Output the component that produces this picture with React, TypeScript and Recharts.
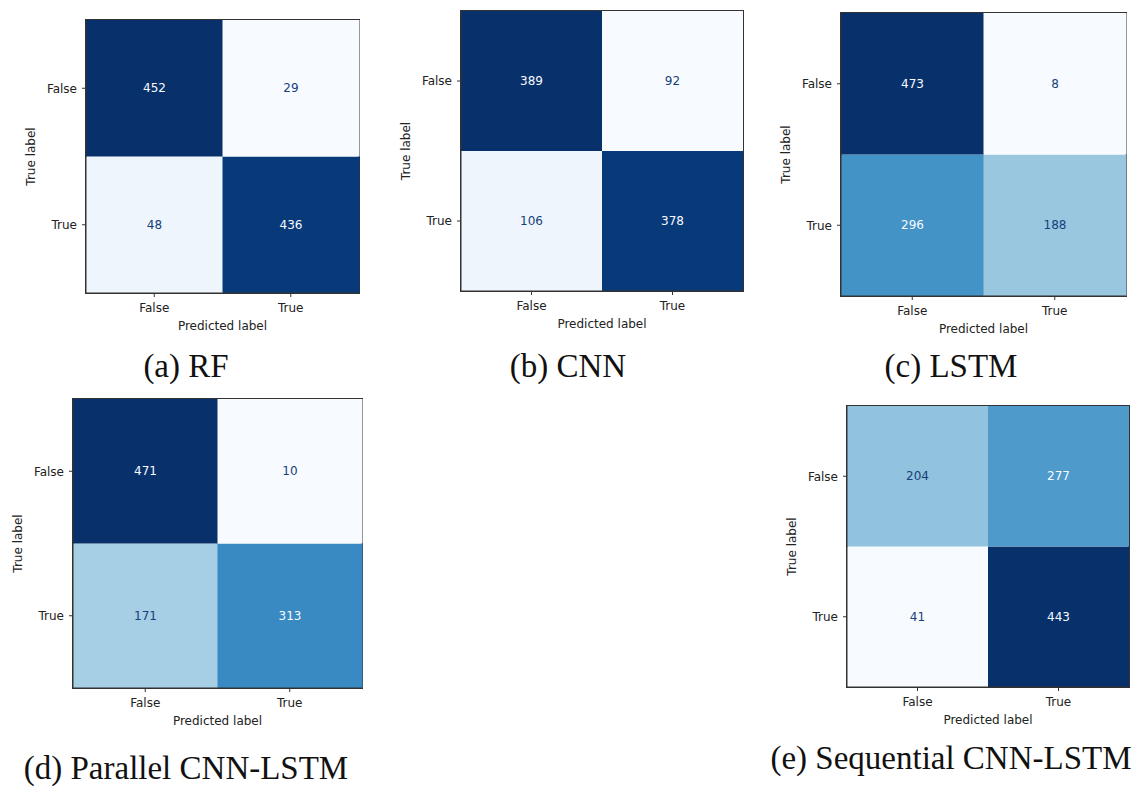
import { Bar, BarChart, Cell, Label, LabelList, ReferenceArea, XAxis, YAxis } from 'recharts'

const predictedLabels = ['False', 'True']
const trueLabels = ['False', 'True']

// rows = true label, columns = predicted label
const rfMatrix = [[452, 29], [48, 436]]
const cnnMatrix = [[389, 92], [106, 378]]
const lstmMatrix = [[473, 8], [296, 188]]
const parallelMatrix = [[471, 10], [171, 313]]
const sequentialMatrix = [[204, 277], [41, 443]]

const captions = ['(a) RF', '(b) CNN', '(c) LSTM', '(d) Parallel CNN-LSTM', '(e) Sequential CNN-LSTM']

// matplotlib "Blues"
const BLUES = ['#f7fbff', '#deebf7', '#c6dbef', '#9ecae1', '#6baed6', '#4292c6', '#2171b5', '#08519c', '#08306b']

function hex(c: string) {
  return [1, 3, 5].map((i) => parseInt(c.slice(i, i + 2), 16))
}

function blues(t: number) {
  const p = Math.max(0, Math.min(1, t)) * 8
  const i = Math.min(7, Math.floor(p))
  const f = p - i
  const a = hex(BLUES[i])
  const b = hex(BLUES[i + 1])
  const rgb = a.map((v, k) => Math.round(v + (b[k] - v) * f))
  return `rgb(${rgb.join(',')})`
}

const ML = 70
const MT = 10
const FRAME = '#333'

// box = [left, top, right, bottom] of the plot area on the page
const panels = [
  { matrix: rfMatrix, caption: captions[0], box: [86, 20, 359, 293], cx: 186, cy: 378 },
  { matrix: cnnMatrix, caption: captions[1], box: [461, 11, 743, 291], cx: 568, cy: 378 },
  { matrix: lstmMatrix, caption: captions[2], box: [841, 13, 1126, 296], cx: 951, cy: 378 },
  { matrix: parallelMatrix, caption: captions[3], box: [73, 399, 362, 688], cx: 186, cy: 780 },
  { matrix: sequentialMatrix, caption: captions[4], box: [847, 406, 1129, 687], cx: 951, cy: 770 },
]

function ConfusionMatrix({ matrix, box }: { matrix: number[][]; box: number[] }) {
  const [L, T, R, B] = box
  const plotW = R - L
  const plotH = B - T
  const values = matrix.flat()
  const lo = Math.min(...values)
  const hi = Math.max(...values)
  const mid = (lo + hi) / 2
  const norm = (v: number) => (v - lo) / (hi - lo)

  const data = predictedLabels.map((p, j) => ({
    pred: p,
    rowTrue: 1,
    rowFalse: 1,
    countTrue: matrix[1][j],
    countFalse: matrix[0][j],
  }))

  const renderCount = (props: any) => {
    const { x, y, width, height, value } = props
    return (
      <text
        x={Number(x) + Number(width) / 2}
        y={Number(y) + Number(height) / 2}
        textAnchor="middle"
        dominantBaseline="central"
        fontSize={12}
        fontFamily="DejaVu Sans"
        fill={value > mid ? BLUES[0] : '#17407a'}
      >
        {value}
      </text>
    )
  }

  return (
    <div style={{ position: 'absolute', left: L - ML, top: T - MT }}>
      <BarChart
        width={plotW + ML + 10}
        height={plotH + MT + 50}
        data={data}
        margin={{ top: MT, right: 10, left: 10, bottom: 10 }}
        barCategoryGap={0}
        barGap={0}
        style={{ fontFamily: 'DejaVu Sans' }}
      >
        <XAxis
          dataKey="pred"
          type="category"
          height={40}
          interval={0}
          tickSize={4}
          tickMargin={6}
          axisLine={{ stroke: FRAME }}
          tickLine={{ stroke: FRAME }}
          tick={{ fontSize: 12, fill: '#222' }}
        >
          <Label
            value="Predicted label"
            content={() => (
              <text x={ML + plotW / 2} y={MT + plotH + 33} textAnchor="middle" dominantBaseline="central" fontSize={12} fill="#222">
                Predicted label
              </text>
            )}
          />
        </XAxis>
        <YAxis
          type="number"
          domain={[0, 2]}
          ticks={[0.5, 1.5]}
          tickFormatter={(v: number) => (v > 1 ? trueLabels[0] : trueLabels[1])}
          width={60}
          tickSize={4}
          tickMargin={5}
          axisLine={{ stroke: FRAME }}
          tickLine={{ stroke: FRAME }}
          tick={{ fontSize: 12, fill: '#222' }}
        >
          <Label
            value="True label"
            content={() => (
              <text
                x={ML - 55}
                y={MT + plotH / 2}
                textAnchor="middle"
                dominantBaseline="central"
                fontSize={12}
                fill="#222"
                transform={`rotate(-90 ${ML - 55} ${MT + plotH / 2})`}
              >
                True label
              </text>
            )}
          />
        </YAxis>
        <Bar dataKey="rowTrue" stackId="cm" isAnimationActive={false}>
          {data.map((d, i) => (
            <Cell key={i} fill={blues(norm(d.countTrue))} />
          ))}
          <LabelList dataKey="countTrue" content={renderCount} />
        </Bar>
        <Bar dataKey="rowFalse" stackId="cm" isAnimationActive={false}>
          {data.map((d, i) => (
            <Cell key={i} fill={blues(norm(d.countFalse))} />
          ))}
          <LabelList dataKey="countFalse" content={renderCount} />
        </Bar>
        <ReferenceArea
          y1={0}
          y2={2}
          fill="none"
          fillOpacity={0}
          stroke={FRAME}
          strokeOpacity={1}
          strokeWidth={2}
          ifOverflow="visible"
        />
      </BarChart>
    </div>
  )
}

export default function App() {
  return (
    <div style={{ position: 'absolute', left: 0, top: 0, width: 1136, height: 787, background: '#fff' }}>
      {panels.map((p, i) => (
        <div key={i}>
          <ConfusionMatrix matrix={p.matrix} box={p.box} />
          <div
            style={{
              position: 'absolute',
              left: p.cx - 250,
              width: 500,
              top: p.cy - 28,
              textAlign: 'center',
              fontFamily: '"Liberation Serif", serif',
              fontSize: 33,
              lineHeight: '33px',
              color: '#111',
              whiteSpace: 'nowrap',
            }}
          >
            {p.caption}
          </div>
        </div>
      ))}
    </div>
  )
}
